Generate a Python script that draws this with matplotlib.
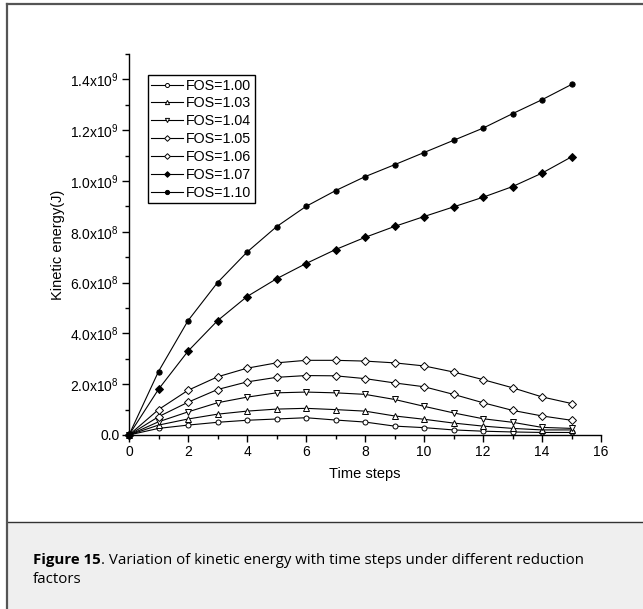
import numpy as np
import matplotlib
matplotlib.use("Agg")
import matplotlib.pyplot as plt
from matplotlib.patches import Rectangle
from matplotlib.lines import Line2D
from matplotlib.ticker import MultipleLocator, FixedLocator, FixedFormatter

plt.rcParams["font.family"] = ["Liberation Sans", "DejaVu Sans"]
plt.rcParams["mathtext.fontset"] = "custom"
plt.rcParams["mathtext.rm"] = "Liberation Sans"

# time steps and kinetic energy (x1e9 J) for each reduction factor
steps = list(range(0, 16))
fos_labels = ["FOS=1.00", "FOS=1.03", "FOS=1.04", "FOS=1.05", "FOS=1.06", "FOS=1.07", "FOS=1.10"]
ke_100 = [0, 0.026, 0.039, 0.050, 0.058, 0.063, 0.068, 0.059, 0.051, 0.035, 0.029, 0.020, 0.015, 0.012, 0.010, 0.010]
ke_103 = [0, 0.039, 0.063, 0.082, 0.094, 0.102, 0.105, 0.100, 0.094, 0.075, 0.062, 0.047, 0.035, 0.026, 0.020, 0.020]
ke_104 = [0, 0.052, 0.091, 0.127, 0.149, 0.166, 0.169, 0.166, 0.160, 0.140, 0.113, 0.087, 0.064, 0.050, 0.030, 0.026]
ke_105 = [0, 0.072, 0.129, 0.179, 0.209, 0.227, 0.234, 0.233, 0.222, 0.205, 0.190, 0.160, 0.127, 0.097, 0.075, 0.058]
ke_106 = [0, 0.100, 0.176, 0.229, 0.263, 0.284, 0.294, 0.294, 0.291, 0.284, 0.272, 0.248, 0.218, 0.186, 0.150, 0.124]
ke_107 = [0, 0.180, 0.330, 0.450, 0.545, 0.615, 0.675, 0.730, 0.778, 0.821, 0.860, 0.898, 0.936, 0.978, 1.031, 1.095]
ke_110 = [0, 0.250, 0.450, 0.600, 0.720, 0.820, 0.900, 0.962, 1.017, 1.064, 1.112, 1.160, 1.208, 1.265, 1.320, 1.380]
series = [ke_100, ke_103, ke_104, ke_105, ke_106, ke_107, ke_110]

y_ticks = [0, 0.2e9, 0.4e9, 0.6e9, 0.8e9, 1.0e9, 1.2e9, 1.4e9]
y_tick_labels = ["0.0", "2.0x10^{8}", "4.0x10^{8}", "6.0x10^{8}", "8.0x10^{8}",
                 "1.0x10^{9}", "1.2x10^{9}", "1.4x10^{9}"]

markers = ["o", "^", "v", "D", "D", "D", "o"]
filled = [False, False, False, False, False, True, True]
sizes = [3.6, 3.8, 3.8, 3.6, 3.6, 3.6, 3.8]

fig = plt.figure(figsize=(6.43, 6.09), dpi=100)
fig.patch.set_facecolor("white")

# caption strip and frame
fig.add_artist(Rectangle((0.012, 0), 0.988, 1 - 522 / 609, transform=fig.transFigure,
                         facecolor="#efefef", edgecolor="none", zorder=0))
fig.add_artist(Line2D([0.012, 1], [1 - 522 / 609] * 2, transform=fig.transFigure,
                      color="#333333", lw=1.0))
fig.add_artist(Line2D([0.0109, 0.0109], [0, 1 - 4 / 609], transform=fig.transFigure,
                      color="#555555", lw=1.6))
fig.add_artist(Line2D([0.0109, 1], [1 - 4 / 609] * 2, transform=fig.transFigure,
                      color="#555555", lw=1.6))

ax = fig.add_axes([129 / 643, 1 - 435 / 609, (601 - 129) / 643, (435 - 54) / 609])
ax.set_facecolor("none")

for vals, lab, m, f, s in zip(series, fos_labels, markers, filled, sizes):
    ax.plot(steps, np.array(vals) * 1e9, color="black", lw=0.8, marker=m, ms=s,
            markerfacecolor="black" if f else "white", markeredgecolor="black",
            markeredgewidth=0.7, label=lab, clip_on=False)

ax.set_xlim(0, 16)
ax.set_ylim(0, 1.5e9)
ax.spines["top"].set_visible(False)
ax.spines["right"].set_visible(False)
ax.spines["left"].set_linewidth(1.0)
ax.spines["bottom"].set_linewidth(1.0)

ax.xaxis.set_major_locator(MultipleLocator(2))
ax.xaxis.set_minor_locator(MultipleLocator(1))
ax.yaxis.set_major_locator(FixedLocator(y_ticks))
ax.yaxis.set_major_formatter(FixedFormatter(
    [lab if lab == "0.0" else r"$\mathregular{" + lab + "}$" for lab in y_tick_labels]))
ax.yaxis.set_minor_locator(MultipleLocator(0.1e9))
ax.tick_params(which="major", direction="out", length=5, width=1.0, labelsize=10, pad=2)
ax.tick_params(which="minor", direction="out", length=3, width=1.0)

ax.set_xlabel("Time steps", fontsize=10.5, labelpad=6)
ax.set_ylabel("Kinetic energy(J)", fontsize=10.5, labelpad=4)

leg = ax.legend(loc="upper left", bbox_to_anchor=(0.04, 0.945), fontsize=10.3,
                frameon=True, fancybox=False, edgecolor="black", framealpha=1,
                handlelength=2.2, handletextpad=0.2, labelspacing=0.27,
                borderpad=0.25, borderaxespad=0, markerscale=0.8)
leg.get_frame().set_linewidth(1.0)

# caption: bold lead followed by regular text
cap_font = ["Open Sans", "DejaVu Sans"]
cap_size = 10.8
cx, cy = 33 / 643, 1 - 564 / 609
bold = fig.text(cx, cy, "Figure 15", fontsize=cap_size, fontweight="bold",
                family=cap_font, va="baseline")
fig.canvas.draw()
bb = bold.get_window_extent(renderer=fig.canvas.get_renderer())
x_after = bb.x1 / fig.bbox.width
fig.text(x_after, cy, ". Variation of kinetic energy with time steps under different reduction",
         fontsize=cap_size, family=cap_font, va="baseline")
fig.text(cx, cy - 19 / 609, "factors", fontsize=cap_size, family=cap_font, va="baseline")

fig.savefig("out.png", dpi=100)
